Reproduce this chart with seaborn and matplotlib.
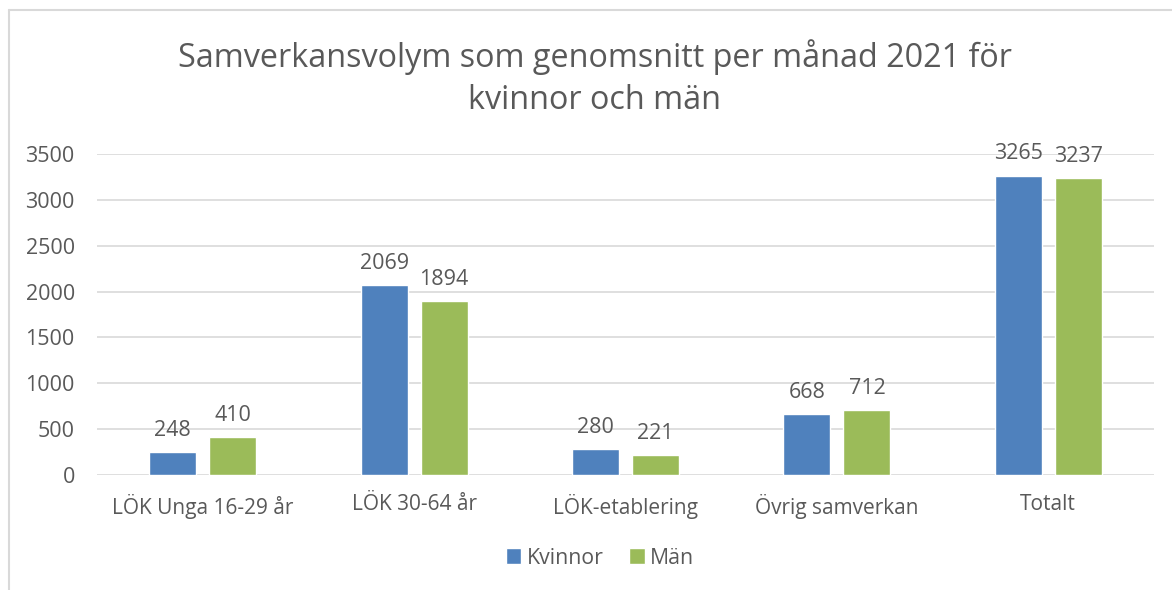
import matplotlib
matplotlib.use("Agg")
import matplotlib.pyplot as plt
import seaborn as sns
import pandas as pd
from matplotlib.lines import Line2D

categories = ["LÖK Unga 16-29 år", "LÖK 30-64 år", "LÖK-etablering", "Övrig samverkan", "Totalt"]
kvinnor = [248, 2069, 280, 668, 3265]
man = [410, 1894, 221, 712, 3237]
series = ["Kvinnor", "Män"]
colors = ["#4F81BD", "#9BBB59"]
yticks = [0, 500, 1000, 1500, 2000, 2500, 3000, 3500]
title = "Samverkansvolym som genomsnitt per månad 2021 för\nkvinnor och män"

df = pd.DataFrame({
    "Kategori": categories * 2,
    "Serie": [series[0]] * len(categories) + [series[1]] * len(categories),
    "Värde": kvinnor + man,
})

sns.set_theme(style="white")
plt.rcParams["font.family"] = ["Open Sans", "DejaVu Sans"]
txt = "#595959"

fig = plt.figure(figsize=(11.72, 5.90), dpi=100)
ax_bottom = 1 - 475/590
ax_h = (475 - 154)/590
ax = fig.add_axes([97/1172, ax_bottom, (1154-97)/1172, ax_h])

sns.barplot(data=df, x="Kategori", y="Värde", hue="Serie", palette=colors,
            width=0.568, gap=0.218, ax=ax, legend=True, saturation=1)

ax.set_ylim(0, 3500)
ax.set_xlim(-0.5, len(categories) - 0.5)
ax.set_yticks(yticks)
ax.set_yticklabels([str(v) for v in yticks])
ax.yaxis.grid(True, color="#D9D9D9", linewidth=1.2)
ax.set_axisbelow(True)
for s in ax.spines.values():
    s.set_visible(False)
ax.tick_params(axis="both", length=0, colors=txt)
ax.tick_params(axis="y", pad=16, labelsize=15.5)
ax.tick_params(axis="x", pad=14, labelsize=15)
ax.set_xlabel("")
ax.set_ylabel("")

for cont in ax.containers:
    ax.bar_label(cont, labels=[f"{int(v)}" for v in cont.datavalues],
                 padding=8, color=txt, fontsize=15.5)

ax.get_legend().remove()
handles, labels = ax.get_legend_handles_labels()
leg = fig.legend(handles, labels, loc="center", bbox_to_anchor=(600/1172, 1 - 558/590),
                 ncol=2, frameon=False, fontsize=15.3, handlelength=0.75, handleheight=0.75,
                 handletextpad=0.25, columnspacing=1.2)
for t in leg.get_texts():
    t.set_color(txt)

fig.text(595/1172, 1 - 78/590, title, ha="center", va="center", fontsize=23.3,
         color=txt, linespacing=1.35)

fig.add_artist(Line2D([9/1172, 1.0], [1 - 10/590, 1 - 10/590], color="#D9D9D9", lw=1.5,
                      transform=fig.transFigure))
fig.add_artist(Line2D([9/1172, 9/1172], [1 - 10/590, 0], color="#D9D9D9", lw=1.5,
                      transform=fig.transFigure))

fig.savefig("out.png", dpi=100)
